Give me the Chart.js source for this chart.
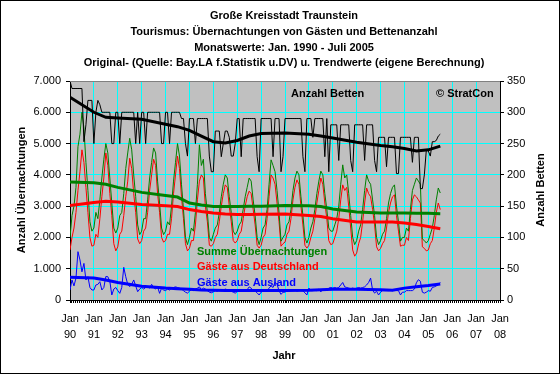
<!DOCTYPE html>
<html>
<head>
<meta charset="utf-8">
<script src="https://cdn.jsdelivr.net/npm/chart.js@4"></script>
<style>
  html, body { margin: 0; padding: 0; background: #fff; }
  #wrap { width: 560px; height: 374px; }
</style>
</head>
<body>
<div id="wrap"><canvas id="chart" width="560" height="374"></canvas></div>
<script>
// month index 0 = Jan 1990, last value = Jul 2005
const yearLabels = ["90","91","92","93","94","95","96","97","98","99","00","01","02","03","04","05","06","07","08"];

const titleLines = [
  "Große Kreisstadt Traunstein",
  "Tourismus: Übernachtungen von Gästen und Bettenanzahl",
  "Monatswerte: Jan. 1990 - Juli 2005",
  "Original- (Quelle: Bay.LA f.Statistik u.DV) u. Trendwerte (eigene Berechnung)"
];

const summe = [
  2000, 2700, 3000, 3600, 4900, 5300, 6000, 5500, 4400, 3500, 2500, 2200,
  2300, 2800, 2600, 3200, 3900, 4500, 5000, 4700, 3900, 3100, 2300, 2140,
  2300, 2700, 2800, 3400, 4200, 4700, 5170, 4800, 4000, 3300, 2400, 2090,
  2200, 2600, 2600, 3200, 3900, 4400, 4860, 4700, 3800, 3100, 2300, 2090,
  2200, 2500, 2400, 3000, 3800, 4400, 5000, 4600, 3700, 2900, 2000, 1770,
  2000, 2300, 2200, 2800, 3700, 4960, 4300, 4500, 3400, 2800, 2000, 1880,
  2100, 2300, 2400, 2800, 3300, 3700, 4000, 3900, 3300, 2800, 2200, 2090,
  2200, 2400, 2500, 2900, 3300, 3600, 3900, 3800, 3200, 2700, 2000, 1770,
  2000, 2300, 2400, 2900, 3700, 4480, 4300, 4100, 3500, 2800, 1880, 2000,
  2100, 2400, 2500, 2900, 3500, 3900, 4120, 4000, 3300, 2700, 2000, 1820,
  2000, 2300, 2500, 2900, 3400, 3800, 4120, 4000, 3400, 2900, 2300, 2200,
  2200, 2400, 2600, 3000, 3700, 4320, 3900, 4000, 3400, 2700, 2000, 1770,
  1900, 2200, 2400, 2900, 3500, 4000, 3800, 3700, 3200, 2700, 2000, 1770,
  1900, 2100, 2200, 2600, 3100, 3400, 3600, 3680, 3000, 2500, 1880, 2000,
  2000, 2300, 2200, 2900, 3500, 3700, 3900, 3800, 3700, 1950, 1900, 1820,
  1900, 2100, 2300, 2700, 3200, 3580, 3420
];

const deutschland = [
  1600, 2000, 2300, 2800, 3500, 4100, 4800, 4400, 3600, 2800, 2000, 1720,
  1750, 2100, 2000, 2600, 3300, 3900, 4700, 4300, 3400, 2700, 1800, 1570,
  1700, 2100, 2200, 2700, 3300, 3800, 4530, 4200, 3400, 2800, 1950, 1800,
  1900, 2200, 2300, 2800, 3500, 4000, 4500, 4300, 3400, 2800, 2000, 1850,
  1900, 2100, 2100, 2600, 3400, 4000, 4600, 4200, 3300, 2600, 1800, 1570,
  1650, 1900, 1900, 2400, 3200, 3800, 4000, 3900, 3000, 2500, 1750, 1720,
  1800, 2000, 2100, 2500, 3000, 3400, 3680, 3600, 3000, 2500, 1900, 1820,
  1900, 2100, 2200, 2600, 3000, 3300, 3480, 3400, 2900, 2400, 1750, 1660,
  1750, 2000, 2100, 2600, 3300, 4000, 3900, 3700, 3100, 2500, 1720, 1800,
  1850, 2100, 2200, 2600, 3200, 3600, 3840, 3700, 3000, 2400, 1750, 1660,
  1750, 2000, 2200, 2600, 3100, 3500, 3900, 3700, 3100, 2600, 1900, 1770,
  1800, 2000, 2200, 2600, 3200, 3680, 3500, 3600, 3000, 2300, 1600, 1400,
  1500, 1800, 2000, 2500, 3100, 3580, 3400, 3300, 2900, 2400, 1700, 1570,
  1650, 1800, 1900, 2300, 2800, 3100, 3300, 3360, 2700, 2200, 1720, 1750,
  1750, 2000, 1900, 2600, 3200, 3360, 3300, 3200, 3100, 1700, 1650, 1570,
  1600, 1800, 1900, 2300, 2800, 3100, 2890
];

const ausland = [
  320, 640, 450, 700, 1545, 1280, 900, 1170, 640, 745, 400, 320,
  320, 480, 500, 585, 320, 400, 750, 745, 600, 160, 350, 400,
  300, 213, 400, 1044, 745, 500, 426, 500, 640, 450, 266, 350,
  400, 350, 400, 420, 380, 500, 400, 350, 420, 213, 380, 320,
  300, 350, 320, 380, 400, 420, 400, 380, 350, 300, 250, 220,
  280, 330, 300, 350, 380, 420, 330, 380, 350, 300, 250, 230,
  260, 300, 280, 330, 300, 320, 350, 330, 300, 280, 250, 220,
  270, 300, 290, 310, 300, 330, 420, 380, 300, 280, 230, 160,
  250, 300, 290, 300, 380, 450, 400, 570, 500, 300, 180, 250,
  250, 300, 290, 300, 300, 320, 280, 300, 300, 290, 230, 160,
  380, 300, 300, 310, 300, 350, 260, 340, 330, 300, 380, 400,
  380, 400, 380, 400, 480, 560, 420, 400, 380, 360, 380, 360,
  380, 400, 380, 400, 420, 480, 560, 700, 320, 220, 280, 160,
  250, 300, 300, 300, 300, 320, 300, 320, 300, 300, 160, 250,
  250, 300, 300, 300, 300, 350, 550, 650, 600, 250, 220, 250,
  300, 280, 400, 420, 450, 480, 560
];

const betten = [
  350, 338, 338, 338, 338, 338, 338, 253, 280, 319, 319, 319,
  250, 300, 319, 312, 300, 300, 300, 300, 300, 250, 250, 300,
  300, 250, 300, 300, 300, 300, 300, 300, 300, 250, 300, 250,
  300, 300, 250, 300, 300, 300, 300, 300, 300, 300, 250, 250,
  300, 300, 250, 300, 300, 300, 300, 300, 290, 290, 250, 230,
  290, 290, 290, 250, 290, 290, 290, 290, 290, 290, 230, 205,
  205, 270, 270, 270, 229, 250, 270, 270, 260, 230, 230, 250,
  290, 290, 229, 290, 290, 290, 290, 290, 290, 290, 229, 205,
  290, 290, 290, 290, 290, 290, 229, 290, 290, 290, 205, 229,
  290, 290, 290, 290, 290, 290, 290, 290, 290, 229, 205, 290,
  290, 290, 260, 290, 290, 290, 290, 290, 229, 290, 205, 280,
  280, 280, 280, 223, 280, 280, 280, 280, 280, 223, 205, 280,
  280, 280, 280, 280, 223, 280, 280, 280, 280, 223, 205, 260,
  260, 260, 260, 213, 260, 260, 260, 260, 202, 202, 260, 260,
  260, 260, 260, 260, 220, 260, 260, 260, 178, 178, 200, 240,
  238, 230, 253, 253, 255, 262, 265
];

// trend values (own calculation), read at these month indexes
const trendMonths = [0, 12, 18, 24, 36, 48, 54, 60, 66, 72, 78, 84, 90, 96, 108, 120, 126, 132, 144, 156, 162, 168, 174, 180, 186];
const trendSumme = [3770, 3750, 3700, 3600, 3440, 3340, 3290, 3100, 3040, 2990, 2990, 2990, 2995, 3000, 3020, 3010, 2990, 2910, 2810, 2780, 2780, 2780, 2775, 2770, 2760];
const trendDeutschland = [3020, 3120, 3160, 3130, 3050, 3010, 2990, 2890, 2830, 2780, 2750, 2730, 2735, 2740, 2750, 2700, 2670, 2600, 2490, 2490, 2490, 2460, 2410, 2350, 2280];
const trendAusland = [730, 700, 640, 560, 440, 380, 360, 340, 320, 310, 305, 300, 300, 300, 300, 310, 330, 340, 340, 330, 310, 380, 420, 460, 510];
const trendBetten = [324, 300, 292, 291, 289, 281, 277, 271, 262, 253, 251, 255, 262, 266, 267, 265, 262, 259, 252, 247, 245, 242, 238, 240, 246];

const FONT = "Arial, 'Liberation Sans', sans-serif";
const CYAN = "#00ffff";

function toPoints(values) {
  return values.map((v, i) => ({ x: i, y: v }));
}

function toTrend(values) {
  return trendMonths.map((m, i) => ({ x: m, y: values[i] }));
}

function fmtThousands(v) {
  return String(v).replace(/\B(?=(\d{3})+(?!\d))/g, ".");
}

const decor = {
  id: "decor",
  beforeDraw(chart) {
    const { ctx, chartArea: a } = chart;
    ctx.save();
    ctx.fillStyle = "#ffffff";
    ctx.fillRect(0, 0, chart.width, chart.height);
    ctx.fillStyle = "#c0c0c0";
    ctx.fillRect(a.left, a.top, a.right - a.left, a.bottom - a.top);
    ctx.restore();
  },
  afterDatasetsDraw(chart) {
    const { ctx, chartArea: a } = chart;
    ctx.save();
    ctx.strokeStyle = "#808080";
    ctx.lineWidth = 1;
    ctx.beginPath();
    ctx.moveTo(a.left, a.top + 0.5);
    ctx.lineTo(a.right, a.top + 0.5);
    ctx.stroke();
    ctx.restore();
  },
  afterDraw(chart) {
    const { ctx } = chart;
    ctx.save();
    ctx.strokeStyle = "#000";
    ctx.lineWidth = 1;
    ctx.strokeRect(0.5, 0.5, chart.width - 1, chart.height - 1);

    ctx.fillStyle = "#000";
    ctx.font = "bold 11px " + FONT;
    ctx.textAlign = "center";
    ctx.textBaseline = "middle";
    const titleY = [16, 32, 48, 63];
    titleLines.forEach((t, i) => ctx.fillText(t, 284, titleY[i]));

    ctx.fillText("Jahr", 284, 356);

    ctx.save();
    ctx.translate(22, 190);
    ctx.rotate(-Math.PI / 2);
    ctx.fillText("Anzahl Übernachtungen", 0, 0);
    ctx.restore();

    ctx.save();
    ctx.translate(541, 190);
    ctx.rotate(-Math.PI / 2);
    ctx.fillText("Anzahl Betten", 0, 0);
    ctx.restore();

    ctx.textAlign = "left";
    ctx.fillText("Anzahl Betten", 291, 94);
    ctx.fillText("© StratCon", 436, 94);

    ctx.fillStyle = "#008000";
    ctx.fillText("Summe Übernachtungen", 197, 252);
    ctx.fillStyle = "#ff0000";
    ctx.fillText("Gäste aus Deutschland", 197, 267);
    ctx.fillStyle = "#0000ff";
    ctx.fillText("Gäste aus Ausland", 197, 283);
    ctx.restore();
  }
};

const thin = { pointRadius: 0, borderWidth: 1, tension: 0, fill: false };
const thick = { pointRadius: 0, borderWidth: 3, tension: 0, fill: false };

new Chart(document.getElementById("chart"), {
  type: "line",
  data: {
    datasets: [
      { ...thick, label: "Trend Betten", data: toTrend(trendBetten), borderColor: "#000000", yAxisID: "y2", order: 0 },
      { ...thick, label: "Trend Ausland", data: toTrend(trendAusland), borderColor: "#0000ff", yAxisID: "y", order: 1 },
      { ...thick, label: "Trend Deutschland", data: toTrend(trendDeutschland), borderColor: "#ff0000", yAxisID: "y", order: 2 },
      { ...thick, label: "Trend Summe", data: toTrend(trendSumme), borderColor: "#008000", yAxisID: "y", order: 3 },
      { ...thin, label: "Anzahl Betten", data: toPoints(betten), borderColor: "#000000", yAxisID: "y2", order: 4 },
      { ...thin, label: "Gäste aus Ausland", data: toPoints(ausland), borderColor: "#0000ff", yAxisID: "y", order: 5 },
      { ...thin, label: "Summe Übernachtungen", data: toPoints(summe), borderColor: "#008000", yAxisID: "y", order: 6 },
      { ...thin, label: "Gäste aus Deutschland", data: toPoints(deutschland), borderColor: "#ff0000", yAxisID: "y", order: 7 }
    ]
  },
  options: {
    responsive: false,
    animation: false,
    events: [],
    layout: { padding: { top: 81, left: 0, right: 0, bottom: 0 } },
    plugins: {
      legend: { display: false },
      title: { display: false },
      tooltip: { enabled: false }
    },
    scales: {
      x: {
        type: "linear",
        position: "bottom",
        min: 0,
        max: 216,
        afterBuildTicks: scale => {
          const ticks = [];
          for (let m = 0; m <= 216; m++) ticks.push({ value: m });
          scale.ticks = ticks;
        },
        afterFit: scale => { scale.height = 74; },
        ticks: {
          autoSkip: false,
          maxRotation: 0,
          minRotation: 0,
          padding: 8,
          color: "#000",
          font: { family: FONT, size: 11, lineHeight: 1.45 },
          callback: v => (v % 12 === 0 ? ["Jan", yearLabels[v / 12]] : "")
        },
        grid: {
          color: c => (c.tick && c.tick.value % 12 === 0 && c.tick.value > 0 ? CYAN : "rgba(0,0,0,0)"),
          tickColor: "#000",
          tickLength: 3,
          lineWidth: 1
        },
        border: { color: "#000", width: 1 }
      },
      y: {
        position: "left",
        min: 0,
        max: 7000,
        afterFit: scale => { scale.width = 70; },
        ticks: {
          stepSize: 1000,
          padding: 5,
          color: "#000",
          font: { family: FONT, size: 11 },
          callback: v => fmtThousands(v)
        },
        grid: { color: CYAN, tickColor: "#000", tickLength: 4 },
        border: { color: "#000", width: 1 }
      },
      y2: {
        position: "right",
        min: 0,
        max: 350,
        afterFit: scale => { scale.width = 60; },
        ticks: {
          stepSize: 25,
          padding: 3,
          color: "#000",
          font: { family: FONT, size: 11 }
        },
        grid: { drawOnChartArea: false, tickColor: "#000", tickLength: 4 },
        border: { color: "#000", width: 1 }
      }
    }
  },
  plugins: [decor]
});
</script>
</body>
</html>
